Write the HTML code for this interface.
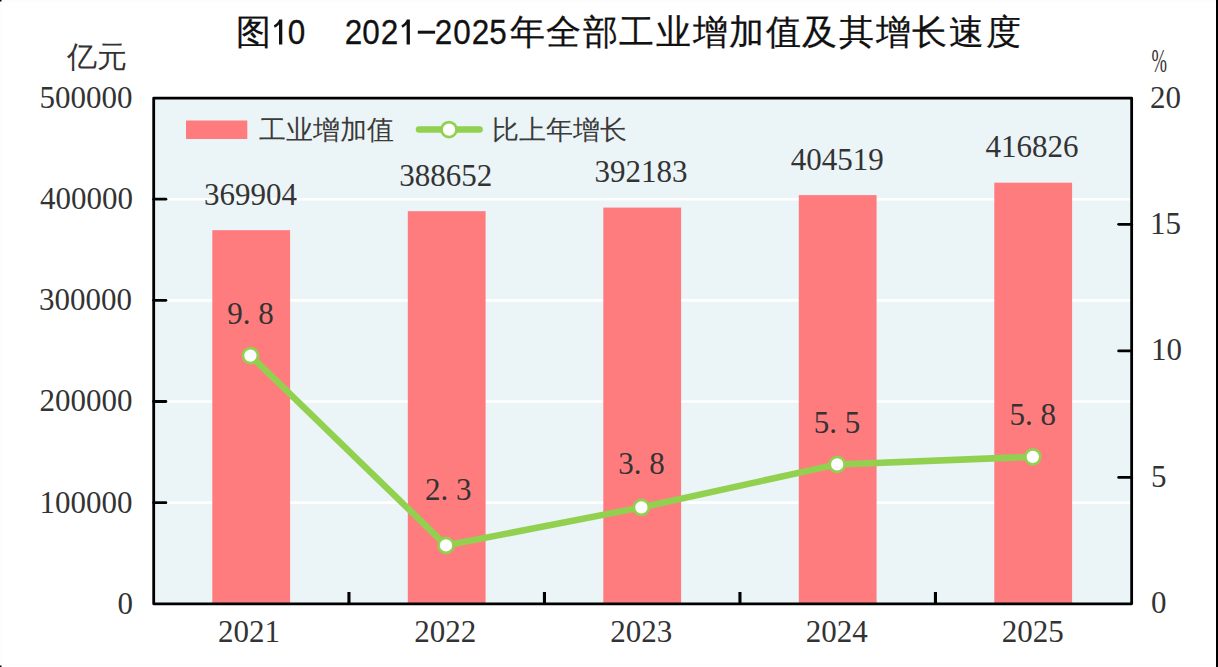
<!DOCTYPE html>
<html><head><meta charset="utf-8"><style>
html,body{margin:0;padding:0;background:#fff;width:1218px;height:667px;overflow:hidden}
svg{position:absolute;left:0;top:0}
</style></head><body>
<svg width="1218" height="667" viewBox="0 0 1218 667">
<rect x="0" y="0" width="1218" height="3" fill="#fdfdfd"/>
<rect x="0" y="664" width="1218" height="2" fill="#fdfdfd"/>
<rect x="0" y="0" width="2.5" height="667" fill="#fdfdfd"/>
<rect x="0" y="0" width="1.5" height="1.5" fill="#000"/>
<rect x="0" y="665.5" width="1.5" height="1.5" fill="#000"/>
<rect x="1216" y="0" width="2" height="667" fill="#000"/>
<rect x="153.7" y="98.05" width="977.95" height="505.75" fill="#ebf4f7"/>
<line x1="153.7" y1="502.65" x2="1131.65" y2="502.65" stroke="#ffffff" stroke-width="2.6"/>
<line x1="153.7" y1="401.50" x2="1131.65" y2="401.50" stroke="#ffffff" stroke-width="2.6"/>
<line x1="153.7" y1="300.35" x2="1131.65" y2="300.35" stroke="#ffffff" stroke-width="2.6"/>
<line x1="153.7" y1="199.20" x2="1131.65" y2="199.20" stroke="#ffffff" stroke-width="2.6"/>
<rect x="212.30" y="230.14" width="77.8" height="373.66" fill="#ff7c7e"/>
<rect x="407.80" y="211.18" width="77.8" height="392.62" fill="#ff7c7e"/>
<rect x="603.30" y="207.61" width="77.8" height="396.19" fill="#ff7c7e"/>
<rect x="798.80" y="195.13" width="77.8" height="408.67" fill="#ff7c7e"/>
<rect x="994.30" y="182.68" width="77.8" height="421.12" fill="#ff7c7e"/>
<rect x="153.7" y="98.05" width="977.95" height="505.75" fill="none" stroke="#000" stroke-width="2.8" stroke-linejoin="round"/>
<line x1="153.7" y1="502.65" x2="165.89999999999998" y2="502.65" stroke="#000" stroke-width="2.8" stroke-linecap="round"/>
<line x1="153.7" y1="401.50" x2="165.89999999999998" y2="401.50" stroke="#000" stroke-width="2.8" stroke-linecap="round"/>
<line x1="153.7" y1="300.35" x2="165.89999999999998" y2="300.35" stroke="#000" stroke-width="2.8" stroke-linecap="round"/>
<line x1="153.7" y1="199.20" x2="165.89999999999998" y2="199.20" stroke="#000" stroke-width="2.8" stroke-linecap="round"/>
<line x1="1131.65" y1="477.45" x2="1118.65" y2="477.45" stroke="#000" stroke-width="2.8" stroke-linecap="round"/>
<line x1="1131.65" y1="350.90" x2="1118.65" y2="350.90" stroke="#000" stroke-width="2.8" stroke-linecap="round"/>
<line x1="1131.65" y1="224.35" x2="1118.65" y2="224.35" stroke="#000" stroke-width="2.8" stroke-linecap="round"/>
<line x1="348.95" y1="603.8" x2="348.95" y2="592" stroke="#000" stroke-width="3.1"/>
<line x1="544.45" y1="603.8" x2="544.45" y2="592" stroke="#000" stroke-width="3.1"/>
<line x1="739.95" y1="603.8" x2="739.95" y2="592" stroke="#000" stroke-width="3.1"/>
<line x1="935.45" y1="603.8" x2="935.45" y2="592" stroke="#000" stroke-width="3.1"/>
<polyline points="250.40,355.56 446.00,545.39 641.40,507.42 837.20,464.40 1032.80,456.80" fill="none" stroke="#92d050" stroke-width="6.5" stroke-linejoin="round"/>
<circle cx="250.40" cy="355.56" r="7.5" fill="#fff" stroke="#92d050" stroke-width="2.7"/>
<circle cx="446.00" cy="545.39" r="7.5" fill="#fff" stroke="#92d050" stroke-width="2.7"/>
<circle cx="641.40" cy="507.42" r="7.5" fill="#fff" stroke="#92d050" stroke-width="2.7"/>
<circle cx="837.20" cy="464.40" r="7.5" fill="#fff" stroke="#92d050" stroke-width="2.7"/>
<circle cx="1032.80" cy="456.80" r="7.5" fill="#fff" stroke="#92d050" stroke-width="2.7"/>
<text x="132.90" y="613.90" text-anchor="end" style="font-family:'Liberation Serif',serif;font-size:31px;" fill="#333333">0</text>
<text x="132.60" y="512.55" text-anchor="end" style="font-family:'Liberation Serif',serif;font-size:31px;" fill="#333333">100000</text>
<text x="132.60" y="411.20" text-anchor="end" style="font-family:'Liberation Serif',serif;font-size:31px;" fill="#333333">200000</text>
<text x="132.00" y="309.85" text-anchor="end" style="font-family:'Liberation Serif',serif;font-size:31px;" fill="#333333">300000</text>
<text x="132.88" y="208.86" text-anchor="end" style="font-family:'Liberation Serif',serif;font-size:31px;" fill="#333333">400000</text>
<text x="132.56" y="108.43" text-anchor="end" style="font-family:'Liberation Serif',serif;font-size:31px;" fill="#333333">500000</text>
<text x="1151.00" y="613.40" text-anchor="start" style="font-family:'Liberation Serif',serif;font-size:31px;" fill="#333333">0</text>
<text x="1151.00" y="486.85" text-anchor="start" style="font-family:'Liberation Serif',serif;font-size:31px;" fill="#333333">5</text>
<text x="1151.00" y="360.30" text-anchor="start" style="font-family:'Liberation Serif',serif;font-size:31px;" fill="#333333">10</text>
<text x="1149.92" y="233.83" text-anchor="start" style="font-family:'Liberation Serif',serif;font-size:31px;" fill="#333333">15</text>
<text x="1149.96" y="107.96" text-anchor="start" style="font-family:'Liberation Serif',serif;font-size:31px;" fill="#333333">20</text>
<text x="249.04" y="642.12" text-anchor="middle" style="font-family:'Liberation Serif',serif;font-size:31px;" fill="#333333">2021</text>
<text x="445.36" y="642.12" text-anchor="middle" style="font-family:'Liberation Serif',serif;font-size:31px;" fill="#333333">2022</text>
<text x="641.18" y="642.20" text-anchor="middle" style="font-family:'Liberation Serif',serif;font-size:31px;" fill="#333333">2023</text>
<text x="836.82" y="642.20" text-anchor="middle" style="font-family:'Liberation Serif',serif;font-size:31px;" fill="#333333">2024</text>
<text x="1032.68" y="642.20" text-anchor="middle" style="font-family:'Liberation Serif',serif;font-size:31px;" fill="#333333">2025</text>
<text x="250.56" y="205.00" text-anchor="middle" style="font-family:'Liberation Serif',serif;font-size:31px;" fill="#333333">369904</text>
<text x="445.86" y="185.80" text-anchor="middle" style="font-family:'Liberation Serif',serif;font-size:31px;" fill="#333333">388652</text>
<text x="641.06" y="181.60" text-anchor="middle" style="font-family:'Liberation Serif',serif;font-size:31px;" fill="#333333">392183</text>
<text x="837.32" y="169.92" text-anchor="middle" style="font-family:'Liberation Serif',serif;font-size:31px;" fill="#333333">404519</text>
<text x="1031.96" y="156.80" text-anchor="middle" style="font-family:'Liberation Serif',serif;font-size:31px;" fill="#333333">416826</text>
<text x="250.50" y="323.60" text-anchor="middle" style="font-family:'Liberation Serif',serif;font-size:31px;white-space:pre" fill="#333333">9. 8</text>
<text x="448.18" y="499.68" text-anchor="middle" style="font-family:'Liberation Serif',serif;font-size:31px;white-space:pre" fill="#333333">2. 3</text>
<text x="641.46" y="474.32" text-anchor="middle" style="font-family:'Liberation Serif',serif;font-size:31px;white-space:pre" fill="#333333">3. 8</text>
<text x="837.10" y="432.56" text-anchor="middle" style="font-family:'Liberation Serif',serif;font-size:31px;white-space:pre" fill="#333333">5. 5</text>
<text x="1032.78" y="424.92" text-anchor="middle" style="font-family:'Liberation Serif',serif;font-size:31px;white-space:pre" fill="#333333">5. 8</text>
<text x="67.48" y="67.10" text-anchor="start" style="font-family:'Liberation Serif',serif;font-size:30px;" fill="#333">亿元</text>
<text transform="translate(1151.5,72) scale(0.62,1.1)" x="0" y="0" style="font-family:'Liberation Serif',serif;font-size:30px" fill="#333333">%</text>
<rect x="186" y="120.5" width="61.3" height="18.5" fill="#ff7c7e"/>
<text x="258.64" y="138.92" text-anchor="start" style="font-family:'Liberation Serif',serif;font-size:27px;" fill="#3a3a3a">工业增加值</text>
<line x1="419" y1="129.6" x2="479.6" y2="129.6" stroke="#92d050" stroke-width="6.5" stroke-linecap="round"/>
<circle cx="449" cy="129.6" r="7.5" fill="#fff" stroke="#92d050" stroke-width="2.7"/>
<text x="492.40" y="139.00" text-anchor="start" style="font-family:'Liberation Serif',serif;font-size:27px;" fill="#3a3a3a">比上年增长</text>
<text x="235.5" y="44" style="font-family:'Liberation Sans',sans-serif;font-size:34.5px" fill="#111" stroke="#111" stroke-width="0.25">图</text>
<path d="M279.00 44.6 V19.4 H282.30 V44.6 Z M279.40 19.4 L281.80 21 C280.20 23.6 277.60 26.2 274.80 27.8 L273.80 25.4 C276.20 24 278.20 21.8 279.40 19.4 Z" fill="#111"/>
<text transform="translate(287.85,43.5) scale(0.9,1)" x="0" y="0" style="font-family:'Liberation Sans',sans-serif;font-size:35px" fill="#111" stroke="#111" stroke-width="0.3">0</text>
<text transform="translate(344.64,43.5) scale(0.9,1)" x="0" y="0" style="font-family:'Liberation Sans',sans-serif;font-size:35px" fill="#111" stroke="#111" stroke-width="0.3">2</text>
<text transform="translate(362.25,43.5) scale(0.9,1)" x="0" y="0" style="font-family:'Liberation Sans',sans-serif;font-size:35px" fill="#111" stroke="#111" stroke-width="0.3">0</text>
<text transform="translate(380.84,43.5) scale(0.9,1)" x="0" y="0" style="font-family:'Liberation Sans',sans-serif;font-size:35px" fill="#111" stroke="#111" stroke-width="0.3">2</text>
<path d="M406.60 44.6 V19.4 H409.90 V44.6 Z M407.00 19.4 L409.40 21 C407.80 23.6 405.20 26.2 402.40 27.8 L401.40 25.4 C403.80 24 405.80 21.8 407.00 19.4 Z" fill="#111"/>
<rect x="417.8" y="30.7" width="17.3" height="3" fill="#111"/>
<text transform="translate(434.74,43.5) scale(0.9,1)" x="0" y="0" style="font-family:'Liberation Sans',sans-serif;font-size:35px" fill="#111" stroke="#111" stroke-width="0.3">2</text>
<text transform="translate(453.15,43.5) scale(0.9,1)" x="0" y="0" style="font-family:'Liberation Sans',sans-serif;font-size:35px" fill="#111" stroke="#111" stroke-width="0.3">0</text>
<text transform="translate(471.74,43.5) scale(0.9,1)" x="0" y="0" style="font-family:'Liberation Sans',sans-serif;font-size:35px" fill="#111" stroke="#111" stroke-width="0.3">2</text>
<text transform="translate(489.26,43.5) scale(0.9,1)" x="0" y="0" style="font-family:'Liberation Sans',sans-serif;font-size:35px" fill="#111" stroke="#111" stroke-width="0.3">5</text>
<text x="509.5" y="44" style="font-family:'Liberation Sans',sans-serif;font-size:34.5px" fill="#111" stroke="#111" stroke-width="0.25" textLength="511" lengthAdjust="spacing">年全部工业增加值及其增长速度</text>
</svg>
</body></html>
